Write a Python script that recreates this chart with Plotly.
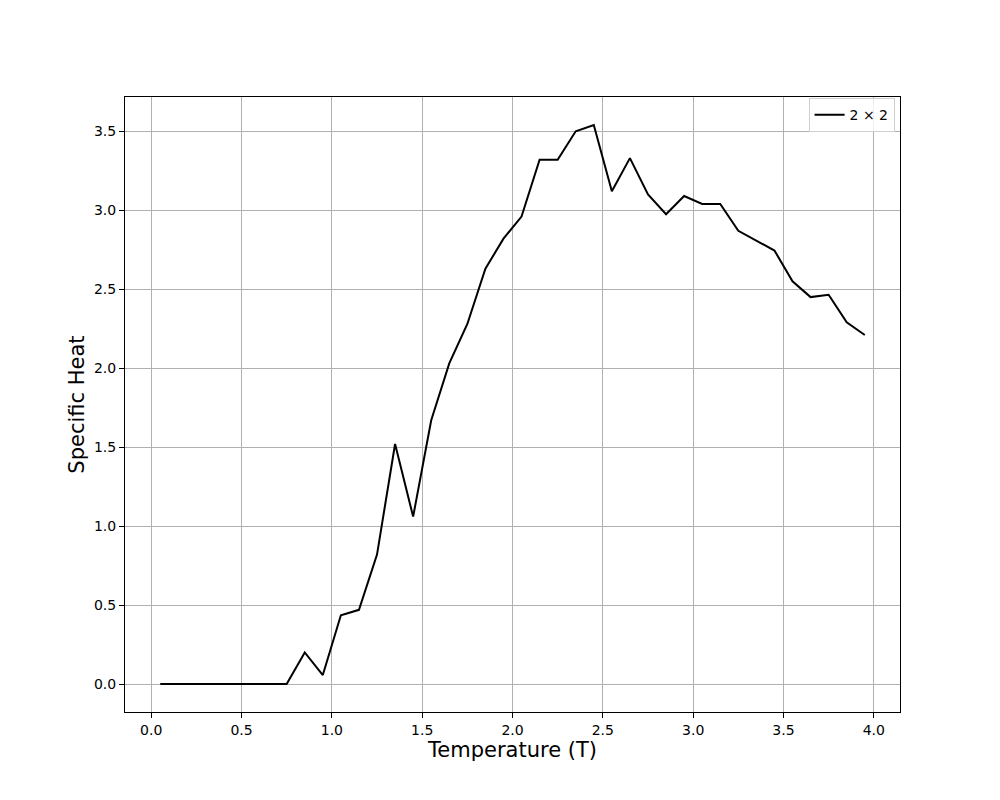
import plotly.graph_objects as go

temperature = [0.05, 0.15, 0.25, 0.35, 0.45, 0.55, 0.65, 0.75, 0.85, 0.95,
               1.05, 1.15, 1.25, 1.35, 1.45, 1.55, 1.65, 1.75, 1.85, 1.95,
               2.05, 2.15, 2.25, 2.35, 2.45, 2.55, 2.65, 2.75, 2.85, 2.95,
               3.05, 3.15, 3.25, 3.35, 3.45, 3.55, 3.65, 3.75, 3.85, 3.95]
specific_heat = [0.0, 0.0, 0.0, 0.0, 0.0, 0.0, 0.0, 0.0, 0.20, 0.057,
                 0.436, 0.47, 0.82, 1.52, 1.06, 1.67, 2.03, 2.28, 2.63, 2.82,
                 2.96, 3.32, 3.32, 3.50, 3.54, 3.12, 3.33, 3.10, 2.975, 3.09,
                 3.04, 3.04, 2.87, 2.81, 2.745, 2.55, 2.45, 2.465, 2.29, 2.21]

x_ticks = [0.0, 0.5, 1.0, 1.5, 2.0, 2.5, 3.0, 3.5, 4.0]
y_ticks = [0.0, 0.5, 1.0, 1.5, 2.0, 2.5, 3.0, 3.5]

fig = go.Figure()
fig.add_trace(go.Scatter(x=temperature, y=specific_heat, mode="lines",
                         name="2 \u00d7 2", line=dict(color="black", width=2)))

axis_style = dict(showline=True, linecolor="black", linewidth=1, mirror=True,
                  showgrid=True, gridcolor="#b0b0b0", gridwidth=1,
                  ticks="outside", ticklen=5, tickcolor="black",
                  zeroline=False, tickfont=dict(size=14, color="black"))

fig.update_xaxes(range=[-0.145, 4.145], tickvals=x_ticks,
                 ticktext=[f"{v:.1f}" for v in x_ticks],
                 title=dict(text="Temperature (T)", font=dict(size=21, color="black"),
                            standoff=4),
                 **axis_style)
fig.update_yaxes(range=[-0.177, 3.717], tickvals=y_ticks,
                 ticktext=[f"{v:.1f}" for v in y_ticks],
                 title=dict(text="Specific Heat", font=dict(size=21, color="black"),
                            standoff=3),
                 **axis_style)

fig.update_layout(
    width=1000, height=800,
    margin=dict(l=117, r=108, t=89, b=96),
    plot_bgcolor="white", paper_bgcolor="white",
    font=dict(family="DejaVu Sans", color="black"),
    showlegend=True,
    legend=dict(x=0.993, y=0.998, xanchor="right", yanchor="top",
                bgcolor="rgba(255,255,255,0.8)", bordercolor="#d0d0d0", borderwidth=1,
                font=dict(size=14)),
)

fig.write_html("out.html")
